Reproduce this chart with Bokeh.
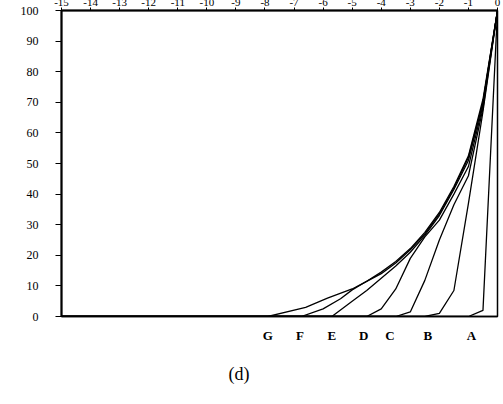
from bokeh.plotting import figure
from bokeh.models import LinearAxis, FixedTicker, Range1d, Title
from bokeh.embed import file_html
from bokeh.resources import INLINE

# Cumulative curves (percent) against position; every curve rises from 0 to 100 at x = 0
x_A = [-15, -1.0, -0.5, 0]
y_A = [0, 0, 2, 100]

x_B = [-15, -2.5, -2.0, -1.5, -1.0, -0.5, 0]
y_B = [0, 0, 1, 8.5, 37, 67, 100]

x_C = [-15, -3.5, -3.0, -2.5, -2.0, -1.5, -1.0, -0.5, 0]
y_C = [0, 0, 1.5, 11.8, 25, 36.5, 46, 68, 100]

x_D = [-15, -4.5, -4.0, -3.5, -3.0, -2.5, -2.0, -1.5, -1.0, -0.5, 0]
y_D = [0, 0, 2.5, 9, 19, 26, 31.5, 40, 49, 69, 100]

x_E = [-15, -5.7, -5.0, -4.5, -4.0, -3.5, -3.0, -2.5, -2.0, -1.5, -1.0, -0.5, 0]
y_E = [0, 0, 5, 8.5, 12.5, 16.5, 21, 26.5, 33, 41.5, 51, 70, 100]

x_F = [-15, -6.75, -6.0, -5.4, -5.0, -4.5, -4.0, -3.5, -3.0, -2.5, -2.0, -1.5, -1.0, -0.5, 0]
y_F = [0, 0, 2.5, 5.8, 8.7, 11.5, 14, 17.5, 21.8, 27, 33.5, 42, 52, 70, 100]

x_G = [-15, -7.9, -6.6, -5.85, -5.0, -4.5, -4.0, -3.5, -3.0, -2.5, -2.0, -1.5, -1.0, -0.5, 0]
y_G = [0, 0, 3, 6, 9, 11.5, 14.5, 18, 22.2, 27.5, 34, 42.5, 52.5, 71, 100]

curves = [(x_A, y_A), (x_B, y_B), (x_C, y_C), (x_D, y_D),
          (x_E, y_E), (x_F, y_F), (x_G, y_G)]

# Curve names written under the start of each curve
curve_names = ["G", "F", "E", "D", "C", "B", "A"]
name_pos = [-7.9, -6.8, -5.7, -4.6, -3.7, -2.4, -0.9]

top_ticks = list(range(-15, 1))
top_labels = [str(t) for t in top_ticks]   # plain hyphen for the sign
left_ticks = list(range(0, 101, 10))

SERIF = "Liberation Serif"

p = figure(frame_width=436, frame_height=306,
           x_range=Range1d(-15, 0), y_range=Range1d(0, 100),
           x_axis_location="above", y_axis_location="left",
           toolbar_location=None, output_backend="svg",
           min_border_left=61, min_border_right=6,
           min_border_top=20, min_border_bottom=88)
p.margin = (-10, 0, 0, 0)
p.background_fill_color = "white"
p.border_fill_color = "white"
p.grid.visible = False
p.outline_line_color = "black"
p.outline_line_width = 1.5

for xs, ys in curves:
    p.line(xs, ys, line_color="black", line_width=1.3)

# Top axis: integer positions
ax = p.xaxis[0]
ax.ticker = FixedTicker(ticks=top_ticks)
ax.major_label_overrides = {t: s for t, s in zip(top_ticks, top_labels)}
ax.major_label_text_font = SERIF
ax.major_label_text_font_size = "11px"
ax.major_label_text_color = "black"
ax.major_label_standoff = 2
ax.major_tick_out = 3
ax.major_tick_in = 0
ax.minor_tick_out = 0
ax.minor_tick_in = 0
ax.axis_line_width = 2
ax.axis_line_color = "black"

# Left axis: percent
ay = p.yaxis[0]
ay.ticker = FixedTicker(ticks=left_ticks)
ay.major_label_text_font = SERIF
ay.major_label_text_font_size = "12px"
ay.major_label_text_color = "black"
ay.major_label_standoff = 17
ay.major_tick_out = 6
ay.major_tick_in = 0
ay.minor_tick_out = 0
ay.minor_tick_in = 0
ay.axis_line_width = 2
ay.axis_line_color = "black"

# Bottom axis carrying the curve names
ab = LinearAxis(ticker=FixedTicker(ticks=name_pos),
                major_label_overrides={pos: name for pos, name in zip(name_pos, curve_names)})
ab.major_label_text_font = SERIF
ab.major_label_text_font_size = "13px"
ab.major_label_text_font_style = "bold"
ab.major_label_text_color = "black"
ab.major_label_standoff = 11
ab.major_tick_out = 0
ab.major_tick_in = 0
ab.minor_tick_out = 0
ab.minor_tick_in = 0
ab.axis_line_width = 1.5
ab.axis_line_color = "black"
p.add_layout(ab, "below")

caption = Title(text="(d)", align="left", offset=167,
                text_font=SERIF, text_font_size="18px",
                text_font_style="normal", text_color="black", standoff=33)
p.add_layout(caption, "below")

open("out.html", "w").write(file_html(p, INLINE))
